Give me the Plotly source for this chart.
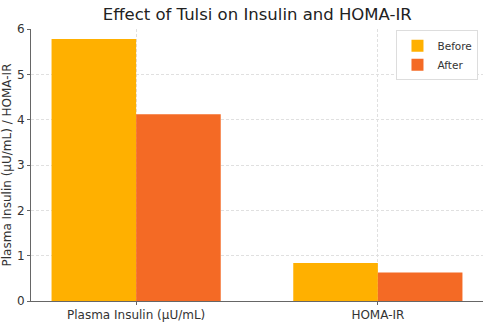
import plotly.graph_objects as go

categories = ["Plasma Insulin (µU/mL)", "HOMA-IR"]
before = [5.78, 0.84]
after = [4.12, 0.63]
positions = [0, 1]
bar_w = 0.35

fig = go.Figure()
fig.add_trace(go.Bar(x=positions, y=before, name="Before", width=bar_w, offset=-bar_w,
                     marker=dict(color="#FFB000", line=dict(width=0))))
fig.add_trace(go.Bar(x=positions, y=after, name="After", width=bar_w, offset=0,
                     marker=dict(color="#F46A25", line=dict(width=0))))

fig.update_layout(
    width=490, height=325,
    margin=dict(l=31, r=7, t=29, b=24, autoexpand=False),
    paper_bgcolor="white", plot_bgcolor="white",
    font=dict(family="DejaVu Sans", size=12, color="#333333"),
    title=dict(text="Effect of Tulsi on Insulin and HOMA-IR", x=0.525, xanchor="center",
               y=0.955, yanchor="middle", font=dict(size=16.5, color="#222222")),
    barmode="overlay",
    showlegend=True,
    legend=dict(x=0.99, y=0.995, xanchor="right", yanchor="top",
                bgcolor="white", bordercolor="#dddddd", borderwidth=1,
                itemwidth=30, font=dict(size=10.5, color="#333333"), tracegroupgap=0),
    xaxis=dict(range=[-0.435, 1.435], tickvals=positions, ticktext=categories,
               showgrid=True, gridcolor="#e0e0e0", griddash="3px,2px", gridwidth=1,
               showline=True, linecolor="#666666", linewidth=1,
               ticks="outside", ticklen=3, tickcolor="#666666",
               zeroline=False, automargin=False, tickfont=dict(size=12)),
    yaxis=dict(range=[0, 6], dtick=1,
               showgrid=True, gridcolor="#e0e0e0", griddash="3px,2px", gridwidth=1,
               showline=True, linecolor="#666666", linewidth=1,
               ticks="outside", ticklen=3, tickcolor="#666666",
               zeroline=False, automargin=False, tickfont=dict(size=12),
               title=dict(text="Plasma Insulin (µU/mL) / HOMA-IR", font=dict(size=12), standoff=4)),
)

fig.write_html("out.html")
